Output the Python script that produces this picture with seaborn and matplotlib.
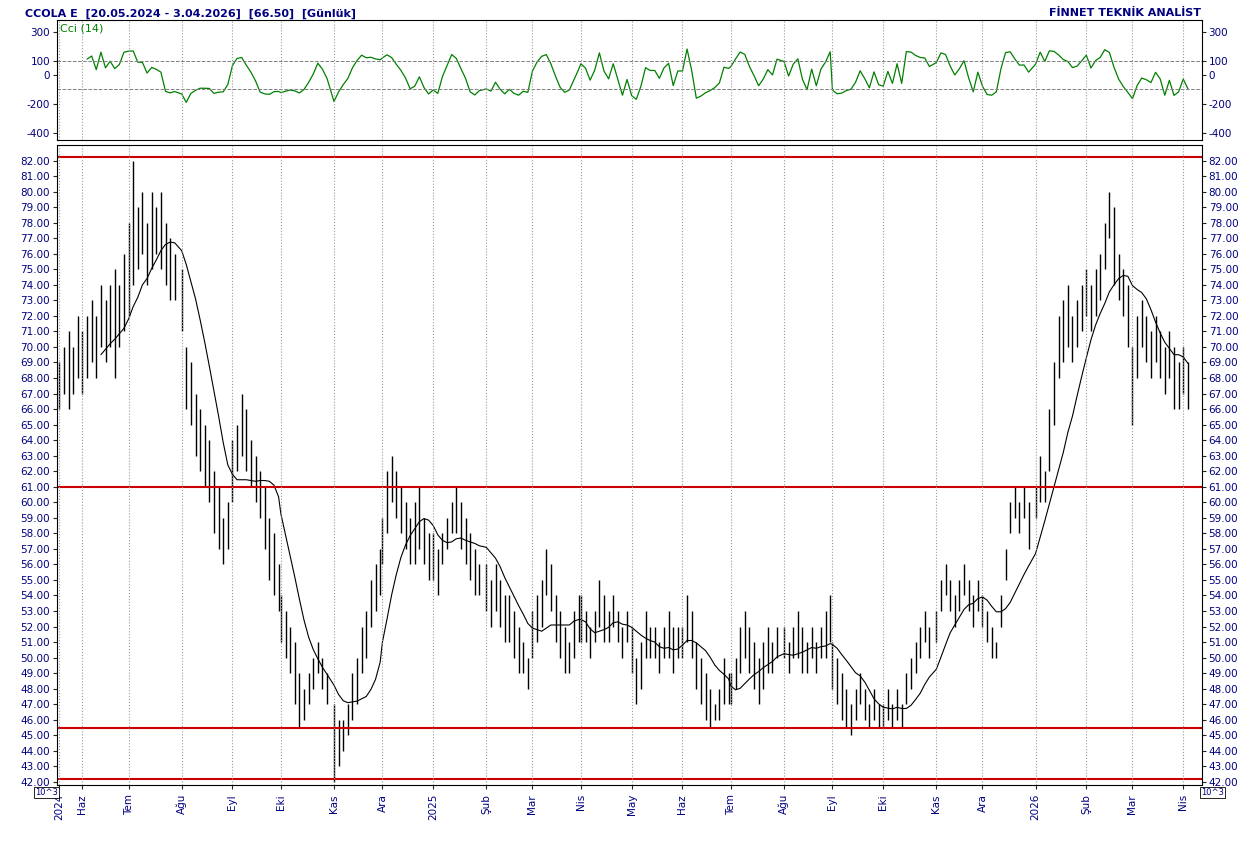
import numpy as np
import pandas as pd
import matplotlib
matplotlib.use("Agg")
import matplotlib.pyplot as plt
import seaborn as sns

# bars are 2-day bars, grouped by month (high / low)
months = ["2024-05", "2024-06", "2024-07", "2024-08", "2024-09", "2024-10", "2024-11", "2024-12",
          "2025-01", "2025-02", "2025-03", "2025-04", "2025-05", "2025-06", "2025-07", "2025-08",
          "2025-09", "2025-10", "2025-11", "2025-12", "2026-01", "2026-02", "2026-03", "2026-04"]
highs = [
    [69, 70, 71, 70, 72],
    [71, 72, 73, 72, 74, 73, 74, 75, 74, 76, 75],
    [78, 82, 79, 80, 78, 80, 79, 80, 78, 77, 76],
    [75, 70, 69, 67, 66, 65, 64, 62, 61, 59, 60],
    [64, 65, 67, 66, 64, 63, 62, 61, 59, 58, 56],
    [54, 53, 52, 51, 49, 48, 49, 50, 51, 50, 49],
    [47, 46, 46, 47, 49, 50, 52, 53, 55, 56, 57],
    [59, 62, 63, 62, 61, 60, 59, 60, 61, 59, 58],
    [58, 57, 58, 59, 60, 61, 60, 59, 58, 57, 56],
    [56, 55, 56, 55, 54, 54, 53, 52, 51, 50, 52],
    [53, 54, 55, 57, 56, 54, 53, 52, 51, 53, 54],
    [54, 53, 52, 53, 55, 54, 53, 54, 53, 52, 53],
    [52, 50, 51, 53, 52, 52, 51, 52, 53, 52, 52],
    [52, 54, 53, 51, 50, 49, 48, 47, 48, 50, 49],
    [49, 50, 52, 53, 52, 51, 50, 51, 52, 51, 52],
    [52, 51, 52, 53, 52, 51, 52, 51, 52, 53, 54],
    [51, 50, 49, 48, 47, 48, 49, 48, 47, 48, 47],
    [47, 48, 47, 48, 47, 49, 50, 51, 52, 53, 52],
    [53, 55, 56, 55, 54, 55, 56, 55, 54, 55, 54],
    [54, 53, 52, 51, 54, 57, 60, 61, 60, 61, 60],
    [61, 63, 62, 66, 69, 72, 73, 74, 72, 73, 74],
    [75, 74, 75, 76, 78, 80, 79, 76, 75, 74, 72],
    [70, 72, 73, 72, 71, 72, 71, 70, 71, 70, 69],
    [70, 69],
]
lows = [
    [66, 67, 66, 67, 68],
    [67, 68, 69, 68, 70, 69, 70, 68, 70, 71, 72],
    [72, 74, 75, 76, 74, 75, 76, 75, 74, 73, 73],
    [71, 66, 65, 63, 62, 61, 60, 58, 57, 56, 57],
    [60, 62, 63, 62, 61, 60, 59, 57, 55, 54, 53],
    [51, 50, 49, 47, 45.5, 46, 47, 48, 49, 48, 47],
    [42, 43, 44, 45, 46, 47, 49, 50, 52, 53, 54],
    [56, 58, 60, 59, 58, 57, 56, 56, 57, 56, 55],
    [55, 54, 56, 57, 58, 58, 57, 56, 55, 54, 54],
    [53, 52, 53, 52, 51, 51, 50, 49, 49, 48, 50],
    [50, 51, 52, 54, 53, 51, 50, 49, 49, 50, 51],
    [51, 51, 50, 51, 52, 51, 51, 52, 51, 50, 51],
    [49, 47, 48, 50, 50, 50, 49, 50, 50, 49, 50],
    [50, 51, 50, 48, 47, 46, 45.5, 46, 46, 47, 47],
    [47, 48, 49, 50, 49, 48, 47, 48, 49, 49, 50],
    [50, 49, 50, 50, 49, 49, 50, 49, 50, 50, 51],
    [48, 47, 46, 45.5, 45, 46, 47, 46, 45.5, 46, 45.5],
    [45.5, 46, 45.5, 46, 45.5, 47, 48, 49, 50, 51, 50],
    [51, 53, 54, 53, 52, 53, 54, 53, 52, 53, 52],
    [52, 51, 50, 50, 52, 55, 58, 59, 58, 59, 57],
    [59, 60, 60, 62, 65, 68, 69, 70, 69, 70, 71],
    [72, 71, 72, 73, 75, 77, 74, 73, 72, 70, 67],
    [65, 68, 70, 69, 68, 69, 68, 67, 68, 66, 66],
    [67, 66],
]
levels = [82.2, 61.0, 45.45, 42.2]
month_labels = ["Haz", "Tem", "Ağu", "Eyl", "Eki", "Kas", "Ara", "2025", "Şub", "Mar", "Nis", "May",
                "Haz", "Tem", "Ağu", "Eyl", "Eki", "Kas", "Ara", "2026", "Şub", "Mar", "Nis"]

days = pd.bdate_range("2024-05-20", "2026-04-03")
day_idx = pd.Series(np.arange(len(days)), index=days)

rows = []
for m, hs, ls in zip(months, highs, lows):
    mdays = day_idx[day_idx.index.strftime("%Y-%m") == m]
    for pos, h, l in zip(mdays.values[::2], hs, ls):
        rows.append((pos, h, l))
df = pd.DataFrame(rows, columns=["x", "high", "low"])
df["close"] = (df["high"] + df["low"]) / 2
df["ma"] = df["close"].rolling(10).mean()
tp = (df["high"] + df["low"] + df["close"]) / 3
sma = tp.rolling(7).mean()
mad = tp.rolling(7).apply(lambda v: np.mean(np.abs(v - v.mean())))
df["cci"] = (tp - sma) / (0.015 * mad)

sns.set_style("white")
plt.rcParams["axes.unicode_minus"] = False
navy = "#000080"
fig = plt.figure(figsize=(12.51, 8.41), dpi=100)
ax1 = fig.add_axes([0.0456, 0.8335, 0.915, 0.1427])
ax2 = fig.add_axes([0.0456, 0.0666, 0.915, 0.761], sharex=ax1)

sns.lineplot(data=df, x="x", y="cci", ax=ax1, color="#008000", linewidth=0.9)
for v in (100, -100):
    ax1.axhline(v, color="gray", linestyle="--", linewidth=0.7)
ax1.set_ylim(-450, 380)
ax1.set_yticks([300, 100, 0, -200, -400])
ax1.text(0.003, 0.97, "Cci (14)", transform=ax1.transAxes, color="#008000", fontsize=8, va="top")

ax2.vlines(df["x"], df["low"], df["high"], color="black", linewidth=1.0)
sns.lineplot(data=df, x="x", y="ma", ax=ax2, color="black", linewidth=0.8)
for lv in levels:
    ax2.axhline(lv, color="#cc0000", linewidth=1.5)
ax2.set_ylim(41.8, 83.0)
ax2.set_yticks(np.arange(42, 83, 1))
ax2.set_yticklabels([f"{v:.2f}" for v in np.arange(42, 83, 1)])

month_starts = [0] + [int(day_idx[day_idx.index.strftime("%Y-%m") == m].iloc[0]) for m in months[1:]]
for ax in (ax1, ax2):
    ax.set_xlim(-1, len(days) + 5)
    for ms in month_starts:
        ax.axvline(ms, color="#999999", linestyle=":", linewidth=0.8)
    ax.tick_params(axis="y", which="both", labelleft=True, labelright=True, left=True, right=True,
                   labelsize=7.5, labelcolor=navy, length=3, pad=2)
    ax.set_xlabel("")
    ax.set_ylabel("")
    for s in ax.spines.values():
        s.set_color("black")
ax1.tick_params(axis="x", labelbottom=False, bottom=False)
ax2.set_xticks(month_starts)
ax2.set_xticklabels(["2024"] + month_labels, rotation=90, fontsize=7.5, color=navy)
ax2.tick_params(axis="x", bottom=True, length=3)

fig.text(0.02, 0.99, "CCOLA E  [20.05.2024 - 3.04.2026]  [66.50]  [Günlük]", fontsize=8,
         fontweight="bold", color=navy, va="top")
fig.text(0.96, 0.99, "FİNNET TEKNİK ANALİST", fontsize=8, fontweight="bold", color=navy,
         va="top", ha="right")
for xf in (0.037, 0.969):
    fig.text(xf, 0.0545, "10^3", fontsize=6, color=navy, ha="center",
             bbox=dict(facecolor="white", edgecolor="black", linewidth=0.6, pad=0.8))

fig.savefig("out.png", dpi=100)
